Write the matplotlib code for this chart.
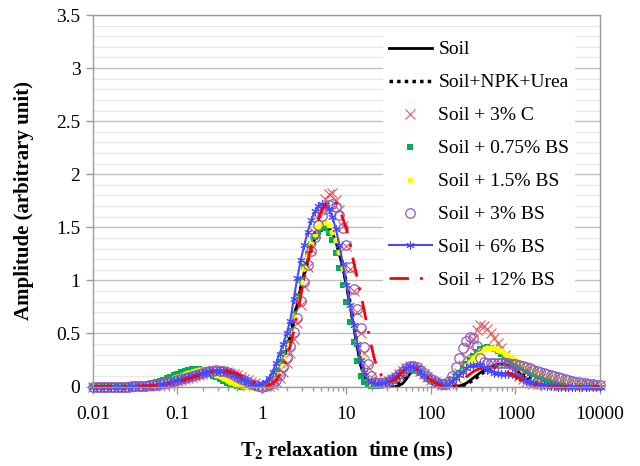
import numpy as np
import matplotlib
matplotlib.use("Agg")
import matplotlib.pyplot as plt
from matplotlib.ticker import MultipleLocator, LogLocator, NullFormatter

plt.rcParams["font.family"] = ["Liberation Serif", "DejaVu Serif"]
plt.rcParams["mathtext.fontset"] = "custom"
plt.rcParams["mathtext.rm"] = "Liberation Serif:bold"
plt.rcParams["mathtext.it"] = "Liberation Serif:bold"
plt.rcParams["mathtext.bf"] = "Liberation Serif:bold"

# T2 bins (ms), 24 per decade from 0.01 to 10000
t2 = np.logspace(-2, 4, 145)

# amplitudes, one row of 24 per decade (+ last point at 10000 ms)
soil = ([0, 0, 0, 0, 0, 0, 0, 0, 0, 0, 0, 0.001, 0.002, 0.003, 0.005, 0.007, 0.01, 0.014, 0.018, 0.024, 0.03, 0.037, 0.045, 0.053]
        + [0.062, 0.071, 0.08, 0.09, 0.10, 0.11, 0.12, 0.13, 0.138, 0.144, 0.148, 0.15, 0.15, 0.145, 0.138, 0.126, 0.112, 0.095, 0.078, 0.06, 0.042, 0.027, 0.015, 0.006]
        + [0.0, 0.005, 0.02, 0.05, 0.10, 0.17, 0.25, 0.35, 0.46, 0.61, 0.78, 0.93, 1.07, 1.19, 1.30, 1.39, 1.45, 1.50, 1.52, 1.50, 1.45, 1.36, 1.25, 1.11]
        + [0.95, 0.76, 0.57, 0.38, 0.20, 0.10, 0.04, 0.02, 0.01, 0.005, 0, 0, 0, 0, 0, 0.01, 0.03, 0.07, 0.12, 0.145, 0.15, 0.135, 0.11, 0.08]
        + [0.05, 0.03, 0.02, 0.01, 0, 0, 0, 0.002, 0.005, 0.015, 0.03, 0.055, 0.08, 0.105, 0.13, 0.15, 0.17, 0.185, 0.20, 0.21, 0.21, 0.205, 0.20, 0.18]
        + [0.16, 0.13, 0.10, 0.075, 0.05, 0.035, 0.02, 0.01, 0.005, 0.002, 0, 0, 0, 0, 0, 0, 0, 0, 0, 0, 0, 0, 0, 0]
        + [0])
soil_npk = ([0, 0, 0, 0, 0, 0, 0, 0, 0, 0, 0, 0.001, 0.002, 0.003, 0.004, 0.006, 0.008, 0.011, 0.015, 0.02, 0.026, 0.033, 0.04, 0.048]
            + [0.057, 0.066, 0.076, 0.086, 0.096, 0.106, 0.116, 0.125, 0.134, 0.141, 0.146, 0.149, 0.149, 0.146, 0.14, 0.13, 0.116, 0.1, 0.082, 0.064, 0.046, 0.031, 0.018, 0.007]
            + [0.0, 0.01, 0.03, 0.06, 0.11, 0.18, 0.26, 0.36, 0.47, 0.62, 0.78, 0.92, 1.06, 1.18, 1.28, 1.37, 1.43, 1.48, 1.50, 1.49, 1.45, 1.37, 1.26, 1.13]
            + [0.97, 0.79, 0.60, 0.41, 0.24, 0.13, 0.06, 0.035, 0.02, 0.015, 0.01, 0.01, 0.01, 0.015, 0.02, 0.035, 0.06, 0.10, 0.14, 0.16, 0.16, 0.14, 0.11, 0.08]
            + [0.05, 0.035, 0.02, 0.01, 0.005, 0.002, 0, 0, 0, 0.008, 0.02, 0.04, 0.06, 0.085, 0.11, 0.135, 0.16, 0.175, 0.19, 0.20, 0.21, 0.212, 0.21, 0.2]
            + [0.18, 0.155, 0.13, 0.105, 0.08, 0.06, 0.04, 0.025, 0.015, 0.01, 0.005, 0.002, 0, 0, 0, 0, 0, 0, 0, 0, 0, 0, 0, 0]
            + [0])
c3 = ([0, 0, 0, 0, 0, 0, 0, 0, 0, 0, 0, 0.001, 0.002, 0.003, 0.004, 0.006, 0.008, 0.011, 0.014, 0.019, 0.024, 0.03, 0.038, 0.046]
      + [0.055, 0.064, 0.073, 0.083, 0.093, 0.103, 0.113, 0.122, 0.13, 0.137, 0.143, 0.147, 0.148, 0.146, 0.14, 0.131, 0.12, 0.106, 0.09, 0.075, 0.06, 0.045, 0.03, 0.018]
      + [0.01, 0.005, 0.005, 0.015, 0.04, 0.08, 0.14, 0.22, 0.32, 0.45, 0.60, 0.77, 0.95, 1.13, 1.30, 1.45, 1.58, 1.69, 1.77, 1.81, 1.82, 1.76, 1.66, 1.51]
      + [1.32, 1.11, 0.90, 0.70, 0.50, 0.32, 0.18, 0.09, 0.04, 0.03, 0.03, 0.035, 0.05, 0.07, 0.09, 0.12, 0.15, 0.175, 0.19, 0.185, 0.17, 0.145, 0.12, 0.09]
      + [0.06, 0.045, 0.03, 0.015, 0.01, 0.02, 0.04, 0.08, 0.13, 0.2, 0.28, 0.37, 0.45, 0.53, 0.58, 0.57, 0.54, 0.50, 0.46, 0.41, 0.36, 0.30, 0.25, 0.19]
      + [0.14, 0.1, 0.07, 0.045, 0.03, 0.025, 0.02, 0.02, 0.02, 0.02, 0.02, 0.018, 0.015, 0.015, 0.015, 0.012, 0.01, 0.01, 0.01, 0.01, 0.01, 0.01, 0.01, 0.01]
      + [0.01])
bs075 = ([0, 0, 0, 0, 0, 0, 0, 0, 0, 0, 0, 0.002, 0.005, 0.008, 0.012, 0.018, 0.025, 0.032, 0.04, 0.052, 0.065, 0.077, 0.09, 0.105]
         + [0.12, 0.136, 0.15, 0.16, 0.165, 0.168, 0.165, 0.155, 0.14, 0.12, 0.10, 0.085, 0.07, 0.052, 0.035, 0.02, 0.01, 0.004, 0, 0, 0, 0, 0, 0.004]
         + [0.01, 0.025, 0.05, 0.09, 0.15, 0.23, 0.32, 0.41, 0.52, 0.68, 0.85, 1.0, 1.13, 1.25, 1.34, 1.41, 1.46, 1.49, 1.49, 1.45, 1.38, 1.26, 1.12, 0.96]
         + [0.80, 0.61, 0.42, 0.24, 0.10, 0.04, 0.01, 0.005, 0.005, 0.006, 0.01, 0.018, 0.03, 0.048, 0.07, 0.095, 0.12, 0.145, 0.16, 0.16, 0.15, 0.125, 0.10, 0.075]
         + [0.05, 0.032, 0.02, 0.01, 0.01, 0.03, 0.06, 0.095, 0.13, 0.17, 0.21, 0.25, 0.29, 0.325, 0.35, 0.365, 0.37, 0.365, 0.35, 0.33, 0.31, 0.285, 0.26, 0.235]
         + [0.21, 0.19, 0.17, 0.15, 0.13, 0.115, 0.10, 0.087, 0.075, 0.065, 0.055, 0.047, 0.04, 0.035, 0.03, 0.025, 0.02, 0.016, 0.012, 0.01, 0.008, 0.006, 0.005, 0.002]
         + [0])
bs15 = ([0, 0, 0, 0, 0, 0, 0, 0, 0, 0, 0, 0.001, 0.003, 0.005, 0.008, 0.011, 0.015, 0.021, 0.028, 0.036, 0.045, 0.055, 0.065, 0.077]
        + [0.09, 0.103, 0.115, 0.128, 0.14, 0.149, 0.155, 0.157, 0.155, 0.145, 0.13, 0.113, 0.095, 0.077, 0.06, 0.044, 0.03, 0.018, 0.01, 0.004, 0, 0, 0, 0.002]
        + [0.005, 0.018, 0.04, 0.08, 0.13, 0.2, 0.29, 0.39, 0.50, 0.66, 0.82, 0.98, 1.12, 1.24, 1.35, 1.44, 1.50, 1.54, 1.55, 1.52, 1.46, 1.38, 1.27, 1.12]
        + [0.95, 0.76, 0.57, 0.42, 0.28, 0.16, 0.07, 0.035, 0.02, 0.018, 0.02, 0.028, 0.04, 0.058, 0.08, 0.11, 0.14, 0.165, 0.18, 0.175, 0.16, 0.135, 0.11, 0.085]
        + [0.06, 0.038, 0.02, 0.012, 0.01, 0.025, 0.05, 0.08, 0.11, 0.15, 0.19, 0.23, 0.27, 0.30, 0.33, 0.35, 0.36, 0.362, 0.36, 0.348, 0.33, 0.31, 0.29, 0.27]
        + [0.25, 0.23, 0.21, 0.19, 0.17, 0.155, 0.14, 0.125, 0.11, 0.1, 0.09, 0.08, 0.07, 0.06, 0.05, 0.042, 0.035, 0.03, 0.025, 0.02, 0.015, 0.012, 0.01, 0.008]
        + [0.005])
bs3 = ([0, 0, 0, 0, 0, 0, 0, 0, 0, 0, 0, 0.001, 0.002, 0.003, 0.005, 0.007, 0.01, 0.014, 0.018, 0.024, 0.03, 0.037, 0.045, 0.053]
       + [0.062, 0.071, 0.08, 0.09, 0.10, 0.11, 0.12, 0.13, 0.14, 0.146, 0.15, 0.152, 0.15, 0.144, 0.135, 0.124, 0.11, 0.093, 0.075, 0.057, 0.04, 0.026, 0.015, 0.006]
       + [0, 0.003, 0.01, 0.03, 0.06, 0.11, 0.18, 0.27, 0.38, 0.51, 0.65, 0.81, 0.98, 1.14, 1.28, 1.41, 1.52, 1.61, 1.67, 1.71, 1.72, 1.69, 1.62, 1.49]
       + [1.33, 1.13, 0.92, 0.73, 0.55, 0.37, 0.21, 0.1, 0.04, 0.03, 0.03, 0.038, 0.05, 0.068, 0.09, 0.12, 0.15, 0.175, 0.19, 0.19, 0.18, 0.158, 0.13, 0.1]
       + [0.07, 0.048, 0.03, 0.02, 0.02, 0.05, 0.10, 0.18, 0.27, 0.36, 0.43, 0.47, 0.46, 0.38, 0.27, 0.235, 0.22, 0.22, 0.22, 0.222, 0.22, 0.22, 0.22, 0.215]
       + [0.21, 0.2, 0.19, 0.18, 0.17, 0.16, 0.15, 0.14, 0.13, 0.12, 0.11, 0.10, 0.09, 0.08, 0.07, 0.06, 0.05, 0.045, 0.04, 0.035, 0.03, 0.025, 0.02, 0.015]
       + [0.01])
bs6 = ([0, 0, 0, 0, 0, 0, 0, 0, 0, 0, 0, 0.001, 0.002, 0.003, 0.004, 0.006, 0.008, 0.011, 0.015, 0.02, 0.026, 0.033, 0.04, 0.048]
       + [0.057, 0.066, 0.076, 0.086, 0.097, 0.107, 0.117, 0.126, 0.135, 0.142, 0.147, 0.149, 0.148, 0.143, 0.135, 0.124, 0.11, 0.093, 0.075, 0.057, 0.04, 0.026, 0.015, 0.012]
       + [0.02, 0.045, 0.08, 0.14, 0.22, 0.31, 0.40, 0.5, 0.62, 0.82, 1.02, 1.19, 1.33, 1.46, 1.57, 1.65, 1.70, 1.72, 1.71, 1.67, 1.60, 1.48, 1.33, 1.15]
       + [0.96, 0.77, 0.58, 0.4, 0.25, 0.14, 0.06, 0.04, 0.03, 0.028, 0.03, 0.038, 0.05, 0.068, 0.09, 0.12, 0.15, 0.175, 0.19, 0.185, 0.17, 0.14, 0.11, 0.085]
       + [0.06, 0.045, 0.03, 0.018, 0.01, 0.025, 0.05, 0.08, 0.11, 0.14, 0.17, 0.19, 0.20, 0.205, 0.20, 0.18, 0.16, 0.145, 0.13, 0.125, 0.12, 0.12, 0.12, 0.118]
       + [0.11, 0.09, 0.07, 0.055, 0.04, 0.032, 0.025, 0.017, 0.01, 0.007, 0.005, 0.002, 0, 0, 0, 0, 0, 0, 0, 0, 0, 0, 0, 0]
       + [0])
bs12 = ([0, 0, 0, 0, 0, 0, 0, 0, 0, 0, 0, 0.001, 0.002, 0.0025, 0.003, 0.004, 0.005, 0.007, 0.01, 0.014, 0.018, 0.024, 0.03, 0.037]
        + [0.045, 0.054, 0.063, 0.073, 0.083, 0.094, 0.105, 0.115, 0.125, 0.133, 0.14, 0.146, 0.15, 0.149, 0.145, 0.139, 0.13, 0.116, 0.10, 0.085, 0.07, 0.052, 0.035, 0.02]
        + [0.01, 0.008, 0.01, 0.03, 0.06, 0.11, 0.18, 0.27, 0.38, 0.52, 0.68, 0.85, 1.02, 1.18, 1.33, 1.46, 1.57, 1.66, 1.72, 1.75, 1.76, 1.73, 1.67, 1.58]
        + [1.48, 1.34, 1.18, 1.03, 0.88, 0.72, 0.55, 0.39, 0.25, 0.16, 0.10, 0.065, 0.04, 0.05, 0.07, 0.105, 0.14, 0.165, 0.18, 0.175, 0.16, 0.135, 0.11, 0.085]
        + [0.06, 0.038, 0.02, 0.008, 0, 0, 0, 0.012, 0.03, 0.06, 0.09, 0.115, 0.14, 0.158, 0.17, 0.176, 0.18, 0.181, 0.18, 0.172, 0.16, 0.145, 0.13, 0.11]
        + [0.09, 0.075, 0.06, 0.045, 0.03, 0.022, 0.015, 0.01, 0.005, 0.002, 0, 0, 0, 0, 0, 0, 0, 0, 0, 0, 0, 0, 0, 0]
        + [0])

labels = ["Soil", "Soil+NPK+Urea", "Soil + 3% C", "Soil + 0.75% BS",
          "Soil + 1.5% BS", "Soil + 3% BS", "Soil + 6% BS", "Soil + 12% BS"]
xtick_vals = [0.01, 0.1, 1, 10, 100, 1000, 10000]
xtick_labels = ["0.01", "0.1", "1", "10", "100", "1000", "10000"]
ytick_vals = [0, 0.5, 1, 1.5, 2, 2.5, 3, 3.5]
ytick_labels = ["0", "0.5", "1", "1.5", "2", "2.5", "3", "3.5"]

fig = plt.figure(figsize=(6.4, 4.66), dpi=100)
ax = fig.add_axes([0.1453, 0.1706, 0.7922, 0.7972])

kw = dict(clip_on=False)
ax.plot(t2, soil, color="black", lw=2, label=labels[0], **kw)
ax.plot(t2, soil_npk, color="black", lw=2.5, ls=(0, (1, 1.2)), label=labels[1], **kw)
ax.plot(t2, c3, ls="none", marker="x", ms=6.5, mew=0.8, color="#E05a5a", label=labels[2], **kw)
ax.plot(t2, bs075, ls="none", marker="s", ms=4, mew=0, color="#00B050", label=labels[3], **kw)
ax.plot(t2, bs15, ls="none", marker="o", ms=4.5, mew=0, color="#FFFF00", label=labels[4], **kw)
ax.plot(t2, bs3, ls="none", marker="o", ms=6.8, mew=0.9, mfc="none", mec="#8A5CC0", label=labels[5], **kw)
ax.plot(t2, bs6, color="#4848FF", lw=1.5, marker=(6, 2, 0), ms=6, mew=0.7, label=labels[6], **kw)
ax.plot(t2, bs12, color="#FF0000", lw=2, ls=(0, (7, 4, 1, 4)), label=labels[7], **kw)

ax.set_xscale("log")
ax.set_xlim(0.01, 10000)
ax.set_ylim(0, 3.5)
ax.set_xticks(xtick_vals)
ax.set_xticklabels(xtick_labels)
ax.xaxis.set_minor_locator(LogLocator(base=10, subs=np.arange(2, 10), numticks=20))
ax.xaxis.set_minor_formatter(NullFormatter())
ax.set_yticks(ytick_vals)
ax.set_yticklabels(ytick_labels)
ax.yaxis.set_minor_locator(MultipleLocator(0.1))

ax.grid(which="major", axis="y", color="#BEBEBE", lw=1)
ax.grid(which="minor", axis="y", color="#E8E8E8", lw=1)
ax.set_axisbelow(True)

for s in ax.spines.values():
    s.set_color("#9A9A9A")
    s.set_linewidth(1)
ax.tick_params(axis="both", which="major", direction="out", length=5, width=1,
               color="#9A9A9A", labelsize=14, pad=4)
ax.tick_params(axis="x", which="major", pad=9)
ax.tick_params(axis="x", which="minor", direction="out", length=3, width=1, color="#9A9A9A")
ax.tick_params(axis="y", which="minor", length=0)

ax.set_xlabel(r"$\mathrm{T_2}$ relaxation  time (ms)", fontsize=15, fontweight="bold", labelpad=12)
ax.set_ylabel("Amplitude (arbitrary unit)", fontsize=15, fontweight="bold", labelpad=16)

leg = ax.legend(loc="upper left", bbox_to_anchor=(383 / 640, 1 - 35 / 466),
                bbox_transform=fig.transFigure, fontsize=14, frameon=True,
                fancybox=False, edgecolor="none", facecolor="white", framealpha=1,
                numpoints=1, handlelength=2.2, handletextpad=0.35,
                labelspacing=0.79, borderpad=0.3, borderaxespad=0)

fig.savefig("out.png", dpi=100)
